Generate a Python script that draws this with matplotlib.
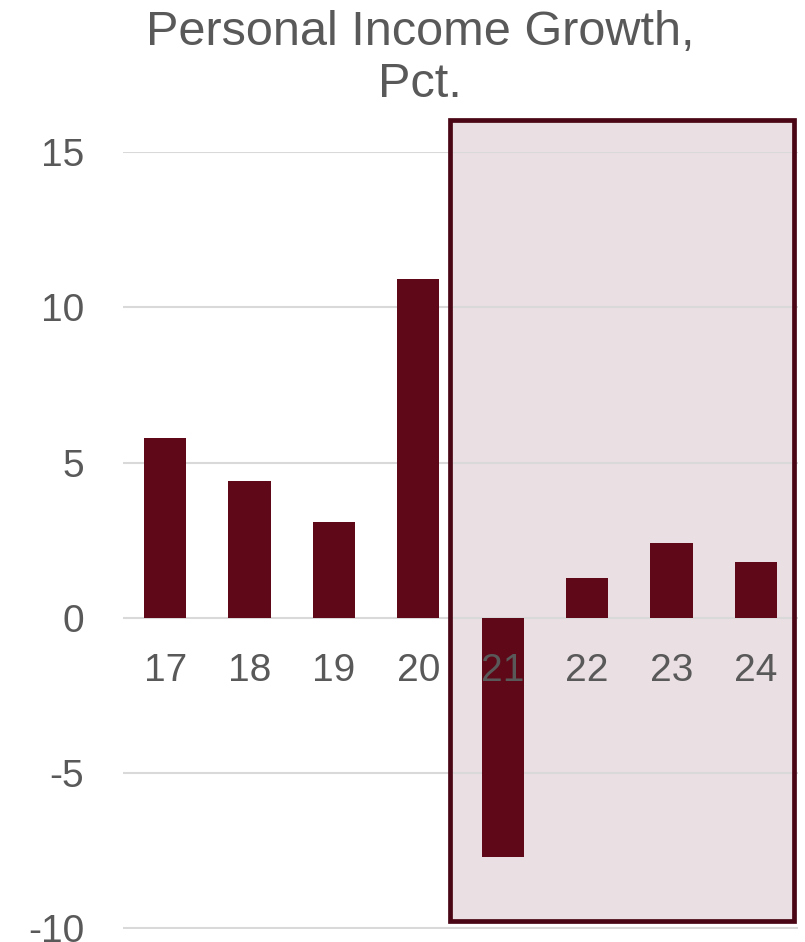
import matplotlib
matplotlib.use('Agg')
import matplotlib.pyplot as plt
from matplotlib.patches import Rectangle

plt.rcParams['font.family'] = ['Liberation Sans', 'DejaVu Sans']

years = ['17', '18', '19', '20', '21', '22', '23', '24']
growth = [5.8, 4.4, 3.1, 10.9, -7.7, 1.3, 2.4, 1.8]
yticks = [-10, -5, 0, 5, 10, 15]

# highlighted forecast window (data units)
hl_x = (3.38, 7.45)
hl_y = (-9.76, 16.04)

bar_col = '#5E0818'
edge_col = '#4A0615'
fill_col = '#EADFE2'
txt_col = '#595959'

fig = plt.figure(figsize=(8.05, 9.42), dpi=100)
ax = fig.add_axes([123/805, 1 - 928.5/942, 675/805, 776.5/942])

x = list(range(len(years)))
ax.bar(x, growth, width=0.5, color=bar_col, zorder=2)

# shaded box: fill behind the grid, border on top
ax.add_patch(Rectangle((hl_x[0], hl_y[0]), hl_x[1] - hl_x[0], hl_y[1] - hl_y[0],
                       facecolor=fill_col, edgecolor='none', zorder=0.2, clip_on=False))
ax.add_patch(Rectangle((hl_x[0], hl_y[0]), hl_x[1] - hl_x[0], hl_y[1] - hl_y[0],
                       facecolor='none', edgecolor=edge_col, linewidth=3.4, zorder=3, clip_on=False))

ax.set_xlim(-0.5, len(years) - 0.5)
ax.set_ylim(-10, 15)
ax.set_yticks(yticks)
ax.set_yticklabels([str(v) for v in yticks], fontsize=28, color=txt_col)
ax.tick_params(axis='y', length=0, pad=28)
ax.set_xticks([])
ax.grid(axis='y', color='#D9D9D9', linewidth=1.5, zorder=1)
ax.set_axisbelow(True)
for s in ax.spines.values():
    s.set_visible(False)
ax.patch.set_alpha(0)

# category labels sit just under the zero line, drawn over the bars
for xi, lab in zip(x, years):
    ax.annotate(lab, (xi, 0), xytext=(0, -25), textcoords='offset points',
                ha='center', va='top', fontsize=28, color=txt_col, zorder=5)

fig.text(420/805, 1 - 10/942, 'Personal Income Growth,\nPct.', ha='center', va='top',
         fontsize=35, color=txt_col, linespacing=1.2)

fig.savefig('out.png', dpi=100)
